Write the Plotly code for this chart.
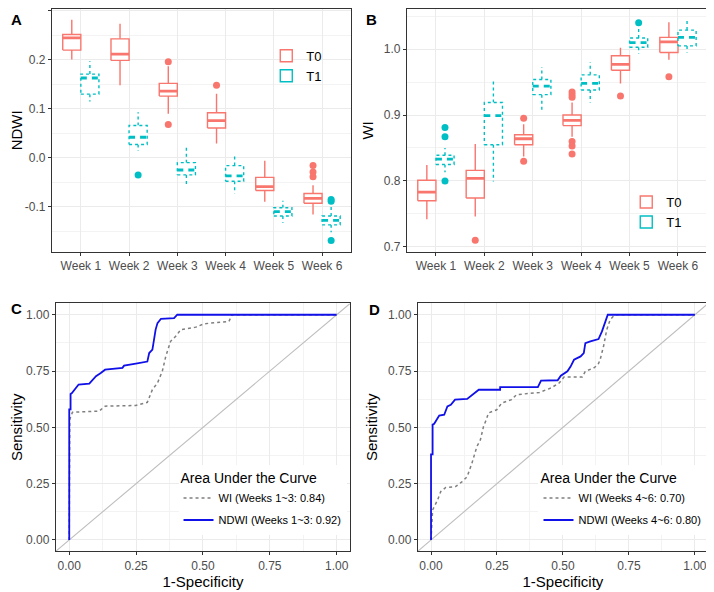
import plotly.graph_objects as go

weeks = ['Week 1', 'Week 2', 'Week 3', 'Week 4', 'Week 5', 'Week 6']
week_idx = [1, 2, 3, 4, 5, 6]

# NDWI box stats (lower whisker, q1, median, q3, upper whisker)
ndwi_t0_lower = [0.201, 0.148, 0.090, 0.029, -0.090, -0.116]
ndwi_t0_q1 = [0.220, 0.199, 0.126, 0.061, -0.067, -0.093]
ndwi_t0_med = [0.245, 0.212, 0.136, 0.076, -0.059, -0.083]
ndwi_t0_q3 = [0.252, 0.243, 0.152, 0.092, -0.040, -0.073]
ndwi_t0_upper = [0.282, 0.274, 0.187, 0.131, -0.006, -0.056]
ndwi_t0_out_week = [3, 3, 4, 6, 6, 6]
ndwi_t0_out_val = [0.196, 0.068, 0.148, -0.016, -0.029, -0.039]

ndwi_t1_lower = [0.115, 0.014, -0.058, -0.073, -0.133, -0.152]
ndwi_t1_q1 = [0.130, 0.027, -0.035, -0.048, -0.119, -0.137]
ndwi_t1_med = [0.163, 0.042, -0.025, -0.037, -0.110, -0.128]
ndwi_t1_q3 = [0.171, 0.066, -0.010, -0.016, -0.102, -0.119]
ndwi_t1_upper = [0.197, 0.093, 0.026, 0.008, -0.088, -0.096]
ndwi_t1_out_week = [2, 6, 6, 6]
ndwi_t1_out_val = [-0.035, -0.085, -0.089, -0.169]

# WI box stats
wi_t0_lower = [0.742, 0.746, 0.837, 0.867, 0.948, 0.984]
wi_t0_q1 = [0.770, 0.774, 0.855, 0.884, 0.968, 0.995]
wi_t0_med = [0.783, 0.804, 0.864, 0.892, 0.977, 1.011]
wi_t0_q3 = [0.801, 0.816, 0.870, 0.900, 0.990, 1.018]
wi_t0_upper = [0.824, 0.856, 0.886, 0.919, 1.002, 1.041]
wi_t0_out_week = [2, 3, 3, 4, 4, 4, 4, 4, 4, 5, 6]
wi_t0_out_val = [0.710, 0.895, 0.830, 0.935, 0.931, 0.927, 0.860, 0.853, 0.841, 0.929, 0.958]

wi_t1_lower = [0.813, 0.799, 0.904, 0.919, 0.993, 0.995]
wi_t1_q1 = [0.825, 0.855, 0.931, 0.938, 1.003, 1.005]
wi_t1_med = [0.833, 0.899, 0.944, 0.948, 1.010, 1.018]
wi_t1_q3 = [0.839, 0.919, 0.954, 0.961, 1.017, 1.029]
wi_t1_upper = [0.850, 0.953, 0.973, 0.980, 1.031, 1.046]
wi_t1_out_week = [1, 1, 1, 5]
wi_t1_out_val = [0.881, 0.867, 0.800, 1.040]

# ROC curves, weeks 1-3
ndwi_c_fpr = [0, 0, 0.005, 0.005, 0.01, 0.019, 0.035, 0.075, 0.087, 0.10, 0.118, 0.134,
              0.199, 0.205, 0.249, 0.292, 0.299, 0.311, 0.323, 0.33, 0.343, 0.392, 0.404, 1.0]
ndwi_c_tpr = [0, 0.58, 0.58, 0.648, 0.652, 0.667, 0.69, 0.694, 0.712, 0.727, 0.741, 0.756,
              0.764, 0.774, 0.783, 0.792, 0.830, 0.845, 0.934, 0.963, 0.982, 0.985, 1.0, 1.0]
wi_c_fpr = [0, 0.002, 0.012, 0.112, 0.134, 0.249, 0.292, 0.311, 0.33, 0.348, 0.361, 0.379,
            0.398, 0.417, 0.473, 0.504, 0.597, 0.609, 1.0]
wi_c_tpr = [0, 0.535, 0.567, 0.572, 0.594, 0.597, 0.611, 0.668, 0.697, 0.749, 0.815, 0.882,
            0.904, 0.934, 0.945, 0.96, 0.97, 1.0, 1.0]

# ROC curves, weeks 4-6
ndwi_d_fpr = [0, 0, 0.006, 0.006, 0.012, 0.021, 0.031, 0.05, 0.062, 0.075, 0.091, 0.137,
              0.153, 0.168, 0.181, 0.262, 0.262, 0.405, 0.417, 0.48, 0.492, 0.517, 0.529,
              0.542, 0.567, 0.579, 0.585, 0.604, 0.635, 0.648, 0.66, 0.67, 1.0]
ndwi_d_tpr = [0, 0.38, 0.38, 0.512, 0.516, 0.531, 0.552, 0.556, 0.593, 0.6, 0.623, 0.626,
              0.641, 0.655, 0.667, 0.667, 0.679, 0.679, 0.707, 0.709, 0.729, 0.749, 0.77,
              0.8, 0.815, 0.83, 0.874, 0.882, 0.892, 0.926, 0.963, 1.0, 1.0]
wi_d_fpr = [0, 0.006, 0.025, 0.037, 0.056, 0.093, 0.118, 0.137, 0.155, 0.174, 0.187, 0.199,
            0.209, 0.218, 0.249, 0.268, 0.305, 0.324, 0.411, 0.455, 0.486, 0.504, 0.573,
            0.585, 0.616, 0.633, 0.641, 0.654, 0.666, 0.679, 0.697, 1.0]
wi_d_tpr = [0, 0.133, 0.178, 0.215, 0.233, 0.237, 0.259, 0.281, 0.341, 0.415, 0.444, 0.504,
            0.533, 0.564, 0.578, 0.608, 0.623, 0.645, 0.655, 0.675, 0.697, 0.723, 0.723,
            0.749, 0.763, 0.778, 0.8, 0.86, 0.933, 0.978, 1.0, 1.0]

chance = [-0.1, 1.1]

T0_COLOR = '#F8766D'
T1_COLOR = '#00BFC4'
FONT = 'Liberation Sans, Arial, sans-serif'

# page body adds an 8px margin, so size the figure to the remaining window
OFF = 8
W, H = 714 - OFF, 592 - OFF


def fx(px):
    return max(0.0, min(1.0, (px - OFF) / W))


def fy(py):
    return max(0.0, min(1.0, 1 - (py - OFF) / H))


fig = go.Figure()


def add_boxes(xa, ya, lower, q1, med, q3, upper, out_week, out_val, color, shift, dash, mdash, name, legend):
    hw = 0.1875
    wx, wy, rx, ry, mx, my = [], [], [], [], [], []
    for i, w in enumerate(week_idx):
        c = w + shift
        wx += [c, c, None, c, c, None]
        wy += [q3[i], upper[i], None, q1[i], lower[i], None]
        rx += [c - hw, c + hw, c + hw, c - hw, c - hw, None]
        ry += [q1[i], q1[i], q3[i], q3[i], q1[i], None]
        mx += [c - hw, c + hw, None]
        my += [med[i], med[i], None]
    fig.add_trace(go.Scatter(x=wx, y=wy, mode='lines', xaxis=xa, yaxis=ya, showlegend=False,
                             line=dict(color=color, width=1.4, dash=dash), hoverinfo='skip'))
    fig.add_trace(go.Scatter(x=rx, y=ry, mode='lines', xaxis=xa, yaxis=ya, showlegend=False,
                             fill='toself', fillcolor='white',
                             line=dict(color=color, width=1.4, dash=dash), hoverinfo='skip'))
    fig.add_trace(go.Scatter(x=mx, y=my, mode='lines', xaxis=xa, yaxis=ya, showlegend=False,
                             line=dict(color=color, width=2.8, dash=mdash), hoverinfo='skip'))
    fig.add_trace(go.Scatter(x=[w + shift for w in out_week], y=out_val, mode='markers',
                             xaxis=xa, yaxis=ya, showlegend=False,
                             marker=dict(color=color, size=7)))
    # legend key only
    fig.add_trace(go.Box(x=[None], y=[None], name=name, xaxis=xa, yaxis=ya, legend=legend,
                         line=dict(color=color, width=1.4), fillcolor='white',
                         marker=dict(color=color), showlegend=True))


add_boxes('x', 'y', ndwi_t0_lower, ndwi_t0_q1, ndwi_t0_med, ndwi_t0_q3, ndwi_t0_upper,
          ndwi_t0_out_week, ndwi_t0_out_val, T0_COLOR, -0.1875, 'solid', 'solid', 'T0', 'legend')
add_boxes('x', 'y', ndwi_t1_lower, ndwi_t1_q1, ndwi_t1_med, ndwi_t1_q3, ndwi_t1_upper,
          ndwi_t1_out_week, ndwi_t1_out_val, T1_COLOR, 0.1875, '3px,3px', '6px,5px', 'T1', 'legend')
add_boxes('x2', 'y2', wi_t0_lower, wi_t0_q1, wi_t0_med, wi_t0_q3, wi_t0_upper,
          wi_t0_out_week, wi_t0_out_val, T0_COLOR, -0.1875, 'solid', 'solid', 'T0', 'legend2')
add_boxes('x2', 'y2', wi_t1_lower, wi_t1_q1, wi_t1_med, wi_t1_q3, wi_t1_upper,
          wi_t1_out_week, wi_t1_out_val, T1_COLOR, 0.1875, '3px,3px', '6px,5px', 'T1', 'legend2')


def add_roc(xa, ya, wi_x, wi_y, nd_x, nd_y, wi_name, nd_name, legend):
    fig.add_trace(go.Scatter(x=chance, y=chance, mode='lines', xaxis=xa, yaxis=ya,
                             showlegend=False, line=dict(color='#BEBEBE', width=1.1)))
    fig.add_trace(go.Scatter(x=wi_x, y=wi_y, mode='lines', xaxis=xa, yaxis=ya, name=wi_name,
                             legend=legend, legendgroup=legend + 'wi',
                             line=dict(color='#7F7F7F', width=1.5, dash='3px,3px')))
    fig.add_trace(go.Scatter(x=nd_x, y=nd_y, mode='lines', xaxis=xa, yaxis=ya, name=nd_name,
                             legend=legend, legendgroup=legend + 'nd',
                             line=dict(color='#1010E8', width=1.8)))


add_roc('x3', 'y3', wi_c_fpr, wi_c_tpr, ndwi_c_fpr, ndwi_c_tpr,
        'WI (Weeks 1~3: 0.84)', 'NDWI (Weeks 1~3: 0.92)', 'legend3')
add_roc('x4', 'y4', wi_d_fpr, wi_d_tpr, ndwi_d_fpr, ndwi_d_tpr,
        'WI (Weeks 4~6: 0.70)', 'NDWI (Weeks 4~6: 0.80)', 'legend4')

grid = '#EBEBEB'
minor_grid = '#F3F3F3'
tickfont = dict(family=FONT, size=12, color='#4D4D4D')
common = dict(showline=True, mirror=True, linecolor='#333333', linewidth=1,
              ticks='outside', ticklen=3, tickcolor='#333333', tickfont=tickfont,
              showgrid=True, gridcolor=grid, gridwidth=1, zeroline=False)

week_x = dict(common, range=[0.4, 6.6], tickvals=week_idx, ticktext=weeks)
roc_axis = dict(common, range=[-0.05, 1.05], tickvals=[0, 0.25, 0.5, 0.75, 1.0],
                tickformat='.2f', minor=dict(dtick=0.125, tick0=0, showgrid=True,
                                             gridcolor=minor_grid, gridwidth=0.7, ticks=''))
title_font = dict(family=FONT, size=15, color='black')
top_y = [fy(252), fy(5)]
bot_y = [fy(553), fy(304)]

fig.update_layout(
    width=W, height=H,
    margin=dict(l=0, r=0, t=0, b=0),
    plot_bgcolor='white', paper_bgcolor='white',
    font=dict(family=FONT),
    xaxis=dict(week_x, domain=[fx(50), fx(350)], anchor='y'),
    yaxis=dict(common, domain=top_y, anchor='x', range=[-0.192, 0.304],
               tickvals=[-0.1, 0.0, 0.1, 0.2, 0.3], ticktext=['-0.1', '0.0', '0.1', '0.2', '0.3'],
               minor=dict(dtick=0.05, tick0=0, showgrid=True, gridcolor=minor_grid,
                          gridwidth=0.7, ticks=''),
               title=dict(text='NDWI', font=title_font, standoff=6)),
    xaxis2=dict(week_x, domain=[fx(406), fx(707)], anchor='y2'),
    yaxis2=dict(common, domain=top_y, anchor='x2', range=[0.6925, 1.061],
                tickvals=[0.7, 0.8, 0.9, 1.0], ticktext=['0.7', '0.8', '0.9', '1.0'],
                minor=dict(dtick=0.05, tick0=0, showgrid=True, gridcolor=minor_grid,
                           gridwidth=0.7, ticks=''),
                title=dict(text='WI', font=title_font, standoff=6)),
    xaxis3=dict(roc_axis, domain=[fx(54), fx(349)], anchor='y3',
                title=dict(text='1-Specificity', font=title_font, standoff=4)),
    yaxis3=dict(roc_axis, domain=bot_y, anchor='x3',
                title=dict(text='Sensitivity', font=title_font, standoff=6)),
    xaxis4=dict(roc_axis, domain=[fx(417), fx(708)], anchor='y4',
                title=dict(text='1-Specificity', font=title_font, standoff=4)),
    yaxis4=dict(roc_axis, domain=bot_y, anchor='x4',
                title=dict(text='Sensitivity', font=title_font, standoff=6)),
    legend=dict(x=fx(265), y=fy(40), xanchor='left', yanchor='top', bgcolor='rgba(0,0,0,0)',
                font=dict(family=FONT, size=13, color='black'), itemwidth=30),
    legend2=dict(x=fx(626), y=fy(187), xanchor='left', yanchor='top', bgcolor='rgba(0,0,0,0)',
                 font=dict(family=FONT, size=13, color='black'), itemwidth=30),
    legend3=dict(x=fx(177), y=fy(537), xanchor='left', yanchor='bottom', bgcolor='white',
                 tracegroupgap=3,
                 title=dict(text='Area Under the Curve', font=dict(family=FONT, size=14, color='black')),
                 font=dict(family=FONT, size=11, color='black')),
    legend4=dict(x=fx(538), y=fy(537), xanchor='left', yanchor='bottom', bgcolor='white',
                 tracegroupgap=3,
                 title=dict(text='Area Under the Curve', font=dict(family=FONT, size=14, color='black')),
                 font=dict(family=FONT, size=11, color='black')),
)

for label, px, py in [('A', 15, 8), ('B', 371, 8), ('C', 15, 298), ('D', 374, 299)]:
    fig.add_annotation(text=f'<b>{label}</b>', x=fx(px), y=fy(py), xref='paper',
                       yref='paper', showarrow=False, xanchor='center', yanchor='top',
                       font=dict(family=FONT, size=15, color='black'))

fig.write_html('out.html')
